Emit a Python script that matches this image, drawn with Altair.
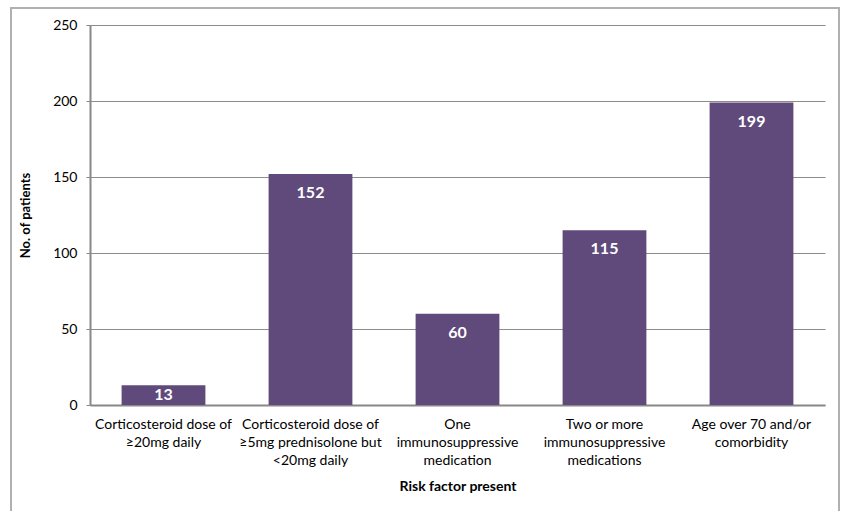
import altair as alt
import pandas as pd

categories = [
    "Corticosteroid dose of|≥20mg daily",
    "Corticosteroid dose of|≥5mg prednisolone but|<20mg daily",
    "One|immunosuppressive|medication",
    "Two or more|immunosuppressive|medications",
    "Age over 70 and/or|comorbidity",
]
patients = [13, 152, 60, 115, 199]
y_ticks = [0, 50, 100, 150, 200, 250]

df = pd.DataFrame({"cat": categories, "n": patients})

FONT = "Lato"
PURPLE = "#604A7B"

x_enc = alt.X(
    "cat:N",
    sort=categories,
    title="Risk factor present",
    scale=alt.Scale(paddingInner=0.43, paddingOuter=0.215),
    axis=alt.Axis(
        labelExpr="split(datum.label, '|')",
        labelAngle=0,
        labelFont=FONT,
        labelFontSize=14,
        labelColor="#000000",
        labelLineHeight=18,
        labelPadding=12,
        labelLimit=200,
        ticks=False,
        domainColor="#888888",
        domainWidth=2,
        titleFont=FONT,
        titleFontSize=14,
        titleFontWeight="bold",
        titleColor="#000000",
        titlePadding=12,
        grid=False,
    ),
)

bars = alt.Chart(df).mark_bar(color=PURPLE).encode(
    x=x_enc,
    y=alt.Y(
        "n:Q",
        title="No. of patients",
        scale=alt.Scale(domain=[0, 250], nice=False),
        axis=alt.Axis(
            values=y_ticks,
            labelFont=FONT,
            labelFontSize=14,
            labelColor="#000000",
            labelPadding=9,
            tickSize=4,
            tickColor="#888888",
            domainColor="#888888",
            domainWidth=2,
            gridColor="#8c8c8c",
            gridWidth=1,
            titleFont=FONT,
            titleFontSize=13,
            titleFontWeight="bold",
            titleColor="#000000",
            titlePadding=20,
        ),
    ),
)

labels = alt.Chart(df).transform_calculate(
    pos="datum.n > 25 ? datum.n - 12.5 : datum.n / 2"
).mark_text(
    color="white", font=FONT, fontSize=16, fontWeight="bold", baseline="middle"
).encode(
    x=alt.X("cat:N", sort=categories),
    y=alt.Y("pos:Q"),
    text="n:Q",
)

frame = alt.Chart(df).mark_rect(
    fill=None, stroke="#b0b0b0", strokeWidth=1.5, clip=False
).encode(
    x=alt.value(-79), x2=alt.value(749), y=alt.value(-17), y2=alt.value(130 + 400)
)

chart = alt.layer(bars, labels, frame).properties(
    width=735,
    height=380,
    padding={"left": 90, "top": 25, "right": 16, "bottom": 106},
    autosize=alt.AutoSizeParams(type="none"),
    background="white",
).configure_view(stroke=None)

chart.save("out.html", embed_options={"renderer": "svg", "actions": False})
